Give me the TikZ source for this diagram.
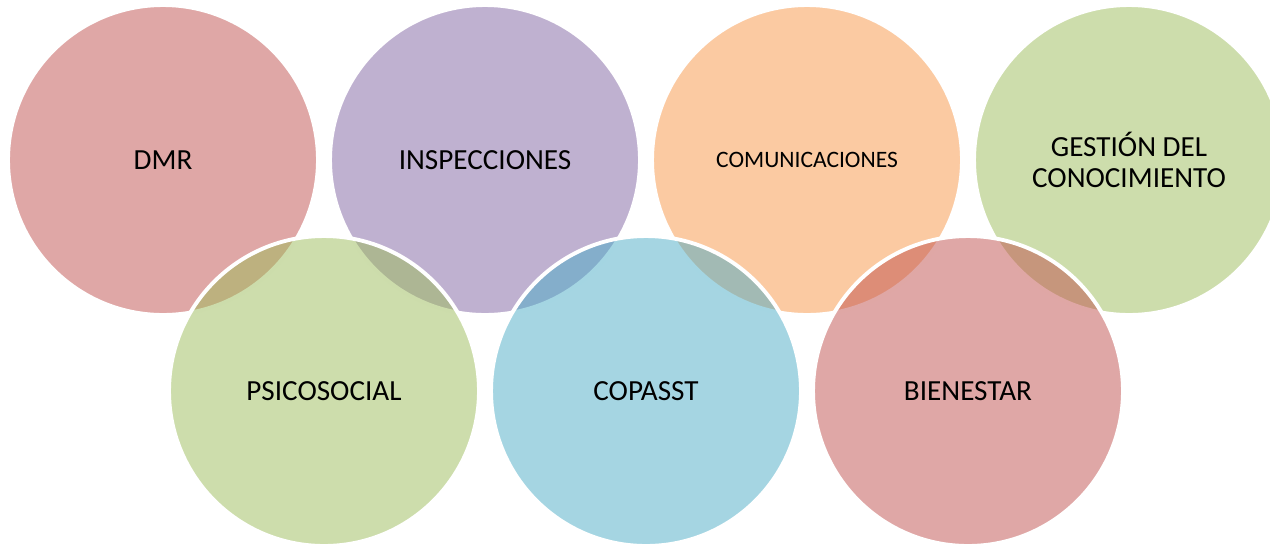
\documentclass[tikz,border=0pt]{standalone}
\usepackage{fontspec}
\setmainfont{Carlito}
\definecolor{rojo}{HTML}{C0504D}
\definecolor{lila}{HTML}{8064A2}
\definecolor{naranja}{HTML}{F79646}
\definecolor{verde}{HTML}{9BBB59}
\definecolor{azul}{HTML}{4BACC6}

\begin{document}
\begin{tikzpicture}[x=0.02cm, y=-0.02cm,
  ring/.style={circle, minimum size=6.2cm, inner sep=0pt, draw=white,
    line width=2.2pt, fill opacity=0.5, text opacity=1, align=center},
  big/.style={font=\fontsize{16.6}{17.8}\selectfont},
  small/.style={font=\fontsize{13.4}{16}\selectfont}]
\def\d{322} % distance between circles
\def\yt{160} % top row
\def\yb{391} % bottom row

\useasboundingbox (0,0) rectangle (1270,545);
\clip (0,0) rectangle (1270,545);

% Top row
\node[ring, fill=rojo, big] (dmr) at (163,\yt) {DMR};
\node[ring, fill=lila, big] (insp) at (163+\d,\yt) {INSPECCIONES};
\node[ring, fill=naranja, small] (com) at (163+2*\d,\yt) {COMUNICACIONES};
\node[ring, fill=verde, big] (gest) at (163+3*\d,\yt) {GESTIÓN DEL\\CONOCIMIENTO};

% Bottom row (drawn on top)
\node[ring, fill=verde, big] (psico) at (324,\yb) {PSICOSOCIAL};
\node[ring, fill=azul, big] (cop) at (324+\d,\yb) {COPASST};
\node[ring, fill=rojo, big] (bien) at (324+2*\d,\yb) {BIENESTAR};

\end{tikzpicture}
\end{document}
